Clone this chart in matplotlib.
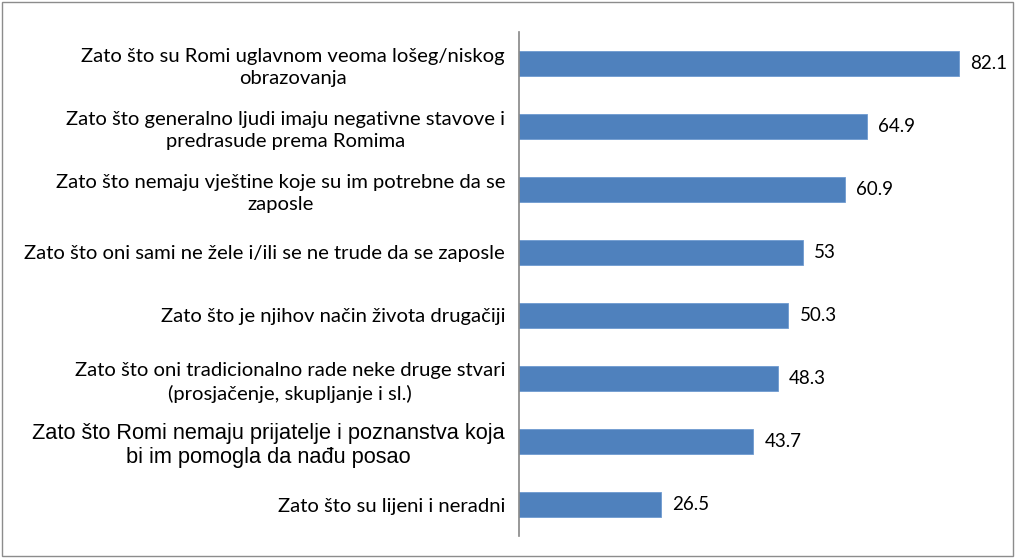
import matplotlib
matplotlib.use("Agg")
import matplotlib.pyplot as plt
from matplotlib.patches import Rectangle

labels = [
    "Zato što su Romi uglavnom veoma lošeg/niskog\nobrazovanja",
    "Zato što generalno ljudi imaju negativne stavove i\npredrasude prema Romima",
    "Zato što nemaju vještine koje su im potrebne da se\nzaposle",
    "Zato što oni sami ne žele i/ili se ne trude da se zaposle",
    "Zato što je njihov način života drugačiji",
    "Zato što oni tradicionalno rade neke druge stvari\n(prosjačenje, skupljanje i sl.)",
    "Zato što Romi nemaju prijatelje i poznanstva koja\nbi im pomogla da nađu posao",
    "Zato što su lijeni i neradni",
]
values = [82.1, 64.9, 60.9, 53, 50.3, 48.3, 43.7, 26.5]
value_text = ["82.1", "64.9", "60.9", "53", "50.3", "48.3", "43.7", "26.5"]

fig = plt.figure(figsize=(10.15, 5.58), dpi=100)
fig.patches.append(Rectangle((0.002, 0.003), 0.996, 0.994, transform=fig.transFigure,
                             fill=False, edgecolor="#8c8c8c", linewidth=1))
ax = fig.add_axes([0.5113, 0.0394, 0.4749, 0.9033])

ypos = list(range(len(values)))[::-1]
ax.barh(ypos, values, height=0.39, color="#4F81BD", edgecolor="#6f9bd0", linewidth=0.6)
for y, v, t in zip(ypos, values, value_text):
    ax.text(v + 2.1, y, t, va="center", ha="left", fontsize=13.5, family="Lato")

ax.set_xlim(0, 90)
ax.set_ylim(-0.5, len(values) - 0.5)
ax.set_yticks(ypos)
ax.set_yticklabels(labels, fontsize=14.6, family="Lato", multialignment="center",
                   linespacing=1.35)
for i, tl in enumerate(ax.get_yticklabels()):
    if i == 6:
        tl.set_family("Liberation Sans")
        tl.set_fontsize(15.7)
        tl.set_linespacing(1.2)
ax.tick_params(axis="y", length=0, pad=10)
ax.set_xticks([])
for s in ["top", "right", "bottom"]:
    ax.spines[s].set_visible(False)
ax.spines["left"].set_color("#868686")
ax.spines["left"].set_linewidth(1.2)

fig.savefig("out.png", dpi=100)
